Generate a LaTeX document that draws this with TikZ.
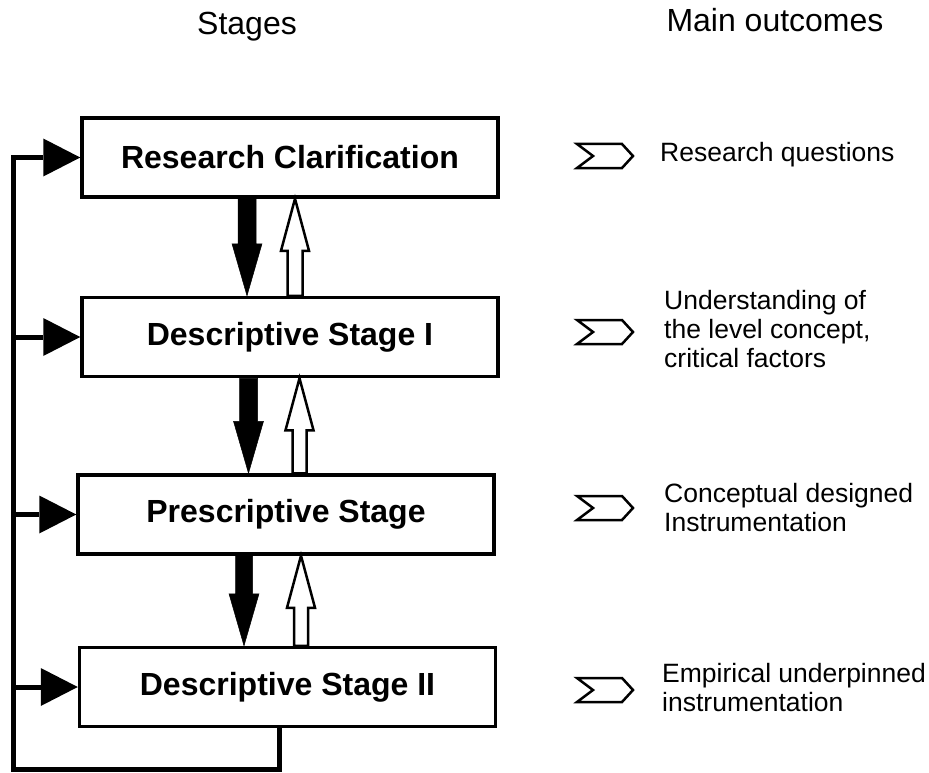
\documentclass[tikz,border=0pt]{standalone}
\usepackage{fontspec}
\setmainfont{Liberation Sans}
\usetikzlibrary{positioning,calc,arrows.meta}

% block arrow: style, shaft half width, head half width, start, tip
\newcommand{\blockarrow}[5]{%
	\coordinate (ba-s) at #4;
	\coordinate (ba-e) at #5;
	\coordinate (ba-h) at ($(ba-e)!52pt!(ba-s)$);
	\draw[#1] ($(ba-s)!#2!90:(ba-e)$) -- ($(ba-h)!#2!90:(ba-e)$) -- ($(ba-h)!#3!90:(ba-e)$)
		-- (ba-e) -- ($(ba-h)!#3!-90:(ba-e)$) -- ($(ba-h)!#2!-90:(ba-e)$) -- ($(ba-s)!#2!-90:(ba-e)$) -- cycle;
}

\tikzset{
	chev/.pic={\draw[line width=2.5pt, line join=miter] (-28,-12) -- (17,-12) -- (28,0) -- (17,12) -- (-28,12) -- (-12,0) -- cycle;}
}

\begin{document}
\begin{tikzpicture}[x=1pt, y=-1pt,
		stagebox/.style={draw, line width=3.5pt, minimum width=416pt, minimum height=79pt, font=\bfseries\fontsize{32}{38}\selectfont},
		heading/.style={font=\fontsize{32}{38}\selectfont, inner sep=0pt},
		outcome/.style={anchor=west, align=left, inner sep=0pt, font=\fontsize{26.5}{29}\selectfont},
		down/.style={draw, fill=black, line width=0.5pt, line join=miter},
		up/.style={draw, fill=white, line width=2.5pt, line join=miter},
		feedback/.style={line width=5pt, line join=miter}]
		\useasboundingbox (0,0) rectangle (929,773);

		\node[heading, anchor=base] (stages) at (247,35) {Stages};
		\node[heading, anchor=base] (outcomes) at (775,32) {Main outcomes};

		\node[stagebox] (rc) at (290,157.5) {Research Clarification};
		\node[stagebox, below=97pt of rc] (ds1) {Descriptive Stage I};
		\node[stagebox, below=95pt of ds1, xshift=-4pt] (ps) {Prescriptive Stage};
		\node[stagebox, below=90pt of ps, xshift=1.5pt] (ds2) {Descriptive Stage II};

		\blockarrow{down}{9pt}{15pt}{([xshift=-43pt]rc.south)}{([xshift=-43pt]rc.south |- ds1.north)}
		\blockarrow{up}{7.5pt}{14pt}{([xshift=5pt]rc.south |- ds1.north)}{([xshift=5pt]rc.south)}
		\blockarrow{down}{9pt}{15pt}{([xshift=-41.5pt]ds1.south)}{([xshift=-41.5pt]ds1.south |- ps.north)}
		\blockarrow{up}{7pt}{14pt}{([xshift=9.5pt]ds1.south |- ps.north)}{([xshift=9.5pt]ds1.south)}
		\blockarrow{down}{8.5pt}{15pt}{([xshift=-42pt]ps.south)}{([xshift=-42pt]ps.south |- ds2.north)}
		\blockarrow{up}{7pt}{14pt}{([xshift=15pt]ps.south |- ds2.north)}{([xshift=15pt]ps.south)}

		% feedback loop back into every stage
		\coordinate (loop) at (13,769);
		\draw[feedback, -{Triangle[length=37pt, width=38pt, line width=0pt]}] ([xshift=-8pt]ds2.south) |- (loop) |- (rc.west);
		\draw[feedback, -{Triangle[length=37pt, width=38pt, line width=0pt]}] (loop |- ds1.west) -- (ds1.west);
		\draw[feedback, -{Triangle[length=37pt, width=38pt, line width=0pt]}] (loop |- ps.west) -- (ps.west);
		\draw[feedback, -{Triangle[length=37pt, width=38pt, line width=0pt]}] (loop |- ds2.west) -- (ds2.west);

		\pic (m1) at (605,156) {chev};
		\pic (m2) at (605,332) {chev};
		\pic (m3) at (605,508) {chev};
		\pic (m4) at (605,690) {chev};

		\node[outcome] (o1) at (660,155) {Research questions};
		\node[outcome] (o2) at (664,329) {Understanding of\\the level concept,\\critical factors};
		\node[outcome] (o3) at (664,508) {Conceptual designed\\Instrumentation};
		\node[outcome] (o4) at (662,688) {Empirical underpinned\\instrumentation};
	\end{tikzpicture}
\end{document}
